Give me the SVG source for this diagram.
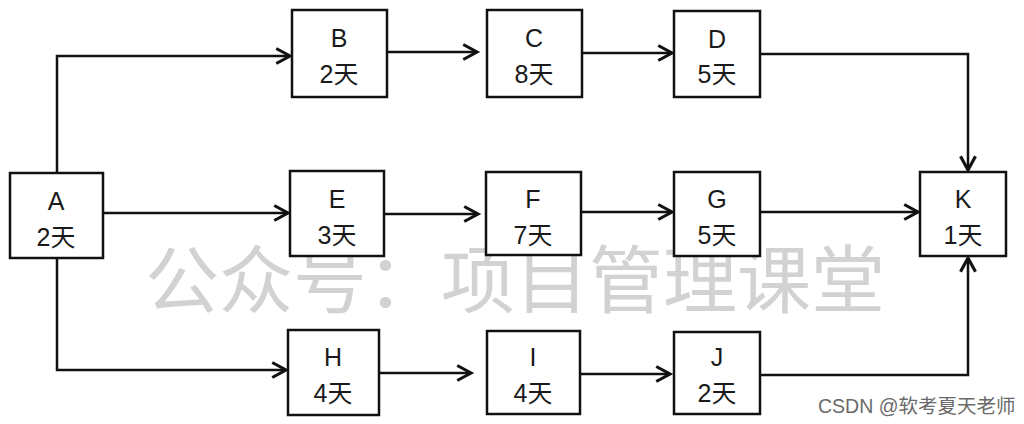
<svg xmlns="http://www.w3.org/2000/svg" width="1024" height="424" viewBox="0 0 1024 424">
<style>
.box{fill:#fff;stroke:#111;stroke-width:2.5}
.lbl{font-family:"Liberation Sans","Noto Sans CJK SC",sans-serif;font-size:25px;fill:#1a1a1a;text-anchor:middle}
.edge{fill:none;stroke:#111;stroke-width:2.5;marker-end:url(#arr)}
.wm{font-family:"Noto Sans CJK SC",sans-serif;font-size:74px;fill:#d2d2d2}
.csdn{font-family:"Liberation Sans","Noto Sans CJK SC",sans-serif;font-size:19.5px;fill:#6a6a6a}
</style>
<defs>
<marker id="arr" markerUnits="userSpaceOnUse" markerWidth="20" markerHeight="20" viewBox="-12 -8 14 16" refX="0" refY="0" orient="auto">
<path d="M-11,-6 L0,0 L-11,6" fill="none" stroke="#111" stroke-width="2.5"/>
</marker>
</defs>
<rect width="1024" height="424" fill="#fff"/>
<text class="wm" x="145" y="307">公众号：项目管理课堂</text>
<g id="connectors">
<path class="edge" d="M57,173 V56 H290"/>
<path class="edge" d="M103,213 H288"/>
<path class="edge" d="M57,258 V370 H286"/>
<path class="edge" d="M387,52 H477"/>
<path class="edge" d="M582,53 H672"/>
<path class="edge" d="M760,54 H968 V170"/>
<path class="edge" d="M384,214 H478"/>
<path class="edge" d="M581,212 H672"/>
<path class="edge" d="M760,212 H918"/>
<path class="edge" d="M379,373 H471"/>
<path class="edge" d="M580,374 H670"/>
<path class="edge" d="M760,375 H968 V258"/>
</g>
<g id="A"><rect class="box" x="10" y="173" width="93" height="85"/><text class="lbl" x="56" y="210">A</text><text class="lbl" x="56" y="246">2天</text></g>
<g id="B"><rect class="box" x="292" y="10" width="95" height="87"/><text class="lbl" x="339" y="47">B</text><text class="lbl" x="339" y="83">2天</text></g>
<g id="C"><rect class="box" x="487" y="10" width="95" height="87"/><text class="lbl" x="534" y="47">C</text><text class="lbl" x="534" y="83">8天</text></g>
<g id="D"><rect class="box" x="674" y="11" width="86" height="86"/><text class="lbl" x="717" y="48">D</text><text class="lbl" x="717" y="83">5天</text></g>
<g id="E"><rect class="box" x="290" y="171" width="94" height="85"/><text class="lbl" x="337" y="208">E</text><text class="lbl" x="337" y="244">3天</text></g>
<g id="F"><rect class="box" x="486" y="172" width="95" height="83"/><text class="lbl" x="533" y="208">F</text><text class="lbl" x="533" y="244">7天</text></g>
<g id="G"><rect class="box" x="674" y="172" width="86" height="84"/><text class="lbl" x="717" y="208">G</text><text class="lbl" x="717" y="244">5天</text></g>
<g id="K"><rect class="box" x="920" y="172" width="86" height="84"/><text class="lbl" x="963" y="208">K</text><text class="lbl" x="963" y="244">1天</text></g>
<g id="H"><rect class="box" x="288" y="330" width="91" height="85"/><text class="lbl" x="333" y="366">H</text><text class="lbl" x="333" y="402">4天</text></g>
<g id="I"><rect class="box" x="487" y="331" width="93" height="83"/><text class="lbl" x="533" y="366">I</text><text class="lbl" x="533" y="402">4天</text></g>
<g id="J"><rect class="box" x="674" y="332" width="86" height="82"/><text class="lbl" x="717" y="366">J</text><text class="lbl" x="717" y="402">2天</text></g>
<text class="csdn" x="818" y="413">CSDN @软考夏天老师</text>
</svg>
